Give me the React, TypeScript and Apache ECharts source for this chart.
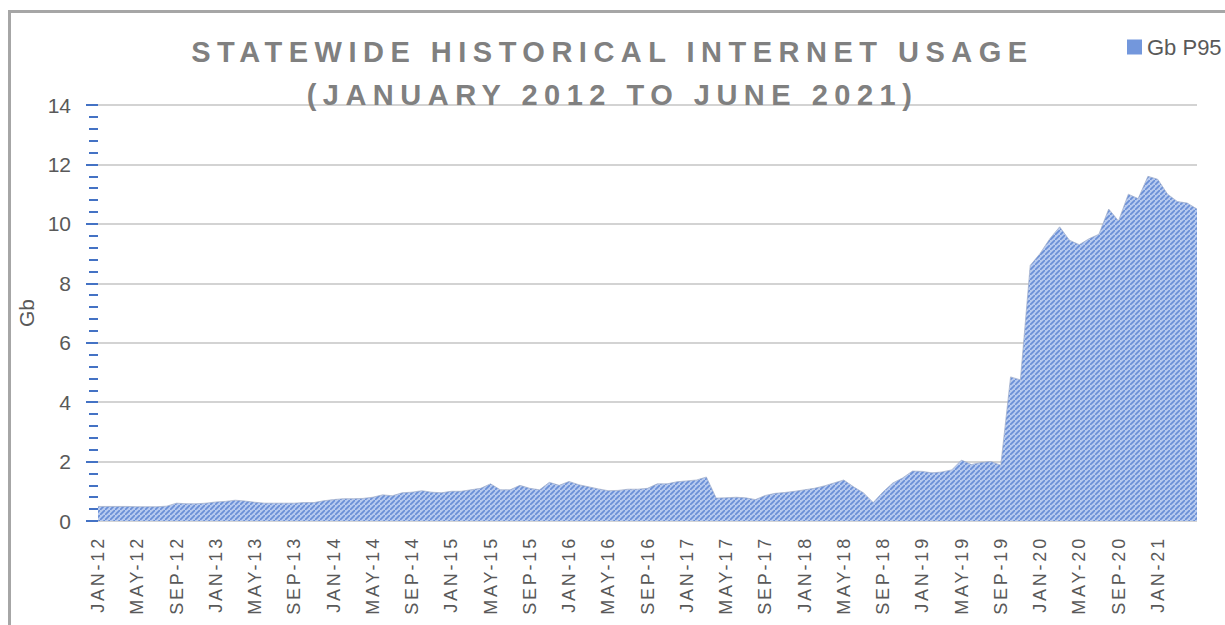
import React, { useEffect, useRef } from 'react';
import * as echarts from 'echarts';

// ---- data ----
const monthNames = ['JAN', 'FEB', 'MAR', 'APR', 'MAY', 'JUN', 'JUL', 'AUG', 'SEP', 'OCT', 'NOV', 'DEC'];
const years = ['12', '13', '14', '15', '16', '17', '18', '19', '20', '21'];
const seriesName = 'Gb P95';
const titleLines = ['STATEWIDE HISTORICAL INTERNET USAGE', '(JANUARY 2012 TO JUNE 2021)'];
const yAxisName = 'Gb';
const yMin = 0;
const yMax = 14;
const yInterval = 2;

// monthly P95 usage in Gb, Jan-2012 .. May-2021
const gbP95 = [
  0.49, 0.49, 0.49, 0.49, 0.48, 0.48, 0.48, 0.50, 0.60, 0.58, 0.58, 0.60,
  0.64, 0.66, 0.70, 0.67, 0.63, 0.60, 0.60, 0.60, 0.60, 0.62, 0.62, 0.68,
  0.72, 0.75, 0.75, 0.76, 0.80, 0.88, 0.85, 0.95, 0.97, 1.02, 0.97, 0.95,
  1.00, 1.00, 1.05, 1.10, 1.25, 1.05, 1.05, 1.20, 1.10, 1.05, 1.30, 1.20,
  1.33, 1.22, 1.15, 1.08, 1.02, 1.03, 1.07, 1.07, 1.10, 1.25, 1.25, 1.32,
  1.35, 1.38, 1.48, 0.77, 0.78, 0.80, 0.78, 0.72, 0.86, 0.93, 0.96, 1.00,
  1.05, 1.10, 1.18, 1.28, 1.38, 1.15, 0.95, 0.62, 0.98, 1.28, 1.45, 1.68,
  1.67, 1.62, 1.65, 1.72, 2.05, 1.90, 1.97, 2.00, 1.88, 4.85, 4.75, 8.60,
  9.00, 9.50, 9.90, 9.45, 9.30, 9.50, 9.65, 10.50, 10.10, 11.00, 10.85, 11.60,
  11.50, 11.00, 10.75, 10.70, 10.50,
];

const categories: string[] = [];
years.forEach((y) => monthNames.forEach((m) => categories.push(`${m}-${y}`)));
const xCategories = categories.slice(0, gbP95.length);

const FONT = '"Liberation Sans", Arial, Helvetica, sans-serif';

function makePattern(): HTMLCanvasElement {
  const c = document.createElement('canvas');
  const s = 5;
  c.width = s;
  c.height = s;
  const ctx = c.getContext('2d')!;
  ctx.fillStyle = '#b7caef';
  ctx.fillRect(0, 0, s, s);
  ctx.strokeStyle = '#6a8fd6';
  ctx.lineWidth = 1.7;
  ctx.beginPath();
  ctx.moveTo(-1, s + 1);
  ctx.lineTo(s + 1, -1);
  ctx.moveTo(-2, 1);
  ctx.lineTo(1, -2);
  ctx.moveTo(s - 1, s + 2);
  ctx.lineTo(s + 2, s - 1);
  ctx.stroke();
  return c;
}

export default function App() {
  const ref = useRef<HTMLDivElement>(null);

  useEffect(() => {
    document.body.style.margin = '0';
    document.body.style.overflow = 'hidden';
    const el = ref.current!;
    const chart = echarts.init(el, undefined, { renderer: 'svg' });
    const pattern = makePattern();

    chart.setOption({
      animation: false,
      backgroundColor: '#ffffff',
      title: {
        text: titleLines.join('\n'),
        left: 'center',
        top: 30,
        padding: 0,
        textStyle: {
          fontFamily: FONT,
          fontSize: 29,
          fontWeight: 'bold',
          color: '#808080',
          lineHeight: 43,
        },
      },
      legend: {
        left: 1127,
        top: 36,
        padding: 0,
        itemWidth: 15,
        itemHeight: 15,
        itemGap: 5,
        icon: 'rect',
        data: [{ name: seriesName, itemStyle: { color: '#7397dc' } }],
        textStyle: { fontFamily: FONT, fontSize: 22, color: '#595959' },
      },
      graphic: [
        { type: 'rect', silent: true, shape: { x: 8, y: 10, width: 1217, height: 3 }, style: { fill: '#a6a6a6' } },
        { type: 'rect', silent: true, shape: { x: 8, y: 10, width: 3, height: 615 }, style: { fill: '#a6a6a6' } },
      ],
      grid: { left: 98, right: 28, top: 105, bottom: 104, containLabel: false },
      xAxis: {
        type: 'category',
        data: xCategories,
        boundaryGap: false,
        axisLine: { show: false },
        axisTick: { show: false },
        splitLine: { show: false },
        axisLabel: {
          rotate: 90,
          margin: 15,
          fontFamily: FONT,
          fontSize: 18,
          color: '#595959',
          interval: (index: number) => index % 4 === 0 && index < gbP95.length - 1,
        },
      },
      yAxis: {
        type: 'value',
        min: yMin,
        max: yMax,
        interval: yInterval,
        name: yAxisName,
        nameLocation: 'middle',
        nameGap: 59,
        nameRotate: 90,
        nameTextStyle: { fontFamily: FONT, fontSize: 21, color: '#595959' },
        axisLine: { show: false },
        axisTick: { show: true, length: 12, lineStyle: { color: '#4472c4', width: 2 } },
        minorTick: { show: true, splitNumber: 5, length: 9, lineStyle: { color: '#4472c4', width: 2 } },
        splitLine: { show: true, lineStyle: { color: '#d3d3d3', width: 2 } },
        axisLabel: { margin: 27, fontFamily: FONT, fontSize: 21, color: '#595959' },
      },
      series: [
        {
          name: seriesName,
          type: 'line',
          data: gbP95,
          showSymbol: false,
          symbol: 'none',
          itemStyle: { color: '#7397dc' },
          lineStyle: { width: 1, color: 'rgba(160,172,200,0.7)' },
          areaStyle: {
            color: { image: pattern, repeat: 'repeat', imageWidth: 5, imageHeight: 5 },
            opacity: 1,
          },
        },
      ],
    });

    const applySpacing = () => {
      el.querySelectorAll('text').forEach((t) => {
        const s = (t.textContent || '').trim();
        if (titleLines.includes(s)) (t as SVGTextElement).style.letterSpacing = '6.5px';
        else if (xCategories.includes(s)) (t as SVGTextElement).style.letterSpacing = '2.8px';
      });
    };
    applySpacing();
    chart.on('finished', applySpacing);

    return () => {
      chart.dispose();
    };
  }, []);

  return <div ref={ref} style={{ width: 1225, height: 625 }} />;
}
